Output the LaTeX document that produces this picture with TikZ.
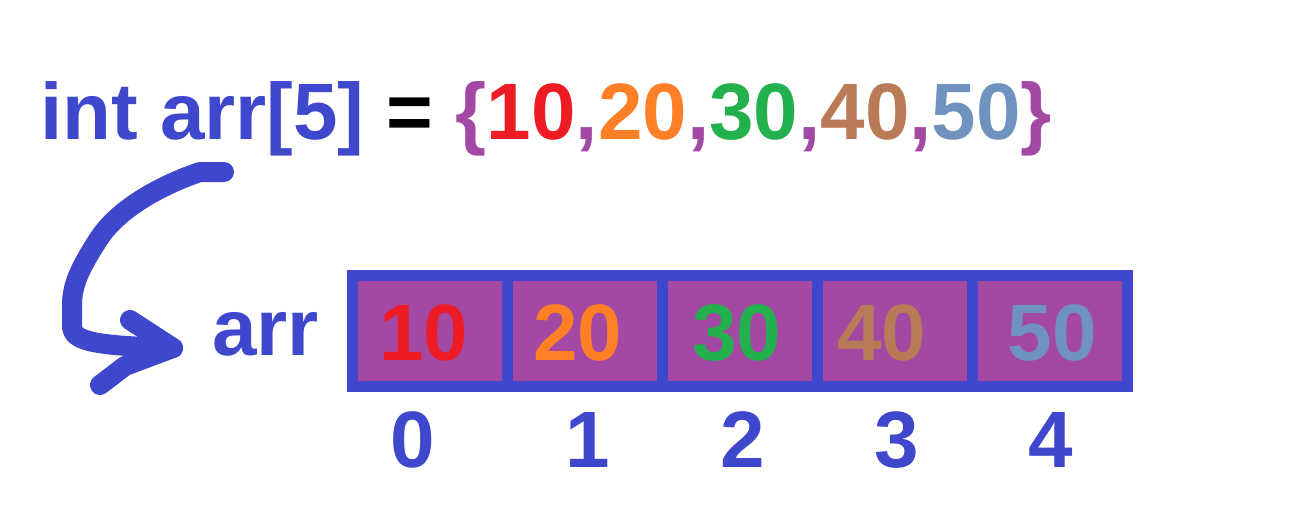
\documentclass[tikz,border=0pt]{standalone}
\usepackage{fontspec}
\setmainfont{Liberation Sans}
\usepackage{xcolor}

\definecolor{indigo}{RGB}{63,72,204}
\definecolor{cellfill}{RGB}{163,73,164}
\definecolor{valred}{RGB}{237,28,36}
\definecolor{valorange}{RGB}{255,127,39}
\definecolor{valgreen}{RGB}{34,177,76}
\definecolor{valbrown}{RGB}{185,122,87}
\definecolor{valblue}{RGB}{112,146,190}

\begin{document}
\begin{tikzpicture}[x=1pt,y=1pt,yscale=-1,
  big/.style={font=\fontsize{80}{96}\selectfont\bfseries, inner sep=0pt},
  cell/.style={draw=indigo, line width=11pt, fill=cellfill, minimum width=155pt, minimum height=111.5pt, inner sep=0pt},
  stroke/.style={draw=indigo, line width=20pt, line cap=round, line join=round}]
\useasboundingbox (0,0) rectangle (1314,514);

% Text Node
\node [big, anchor=base west] (decl) at (40,139) {\color{indigo}int arr[5] \color{black}= \color{cellfill}\{\color{valred}10\color{cellfill},\color{valorange}20\color{cellfill},\color{valgreen}30\color{cellfill},\color{valbrown}40\color{cellfill},\color{valblue}50\color{cellfill}\}};
% Text Node
\node [big, anchor=base west, text=indigo] (name) at (212,355) {arr};

%Shape: Array cells
\foreach \i in {0,...,4}
  \node [cell] (c\i) at ({430+155*\i},330.75) {};

% Values
\foreach \i/\v/\c/\x in {0/10/valred/424, 1/20/valorange/578, 2/30/valgreen/737, 3/40/valbrown/882, 4/50/valblue/1052}
  \node [big, anchor=base, text=\c] (v\i) at (\x,360) {\v};

% Indices
\foreach \i/\x in {0/413, 1/588, 2/743, 3/897, 4/1051}
  \node [big, anchor=base, text=indigo] (n\i) at (\x,467) {\i};

%Curved arrow
\coordinate (from) at (224,172);
\coordinate (tip) at (173,348);
\draw [stroke] (from) -- (200,172) .. controls (170,182) and (120,205) .. (98,240) .. controls (80,268) and (72,285) .. (72,305) -- (72,328) .. controls (74,342) and (100,346) .. (tip);
\draw [stroke] (130,320) -- (tip) -- (125,366) -- (100,385);

\end{tikzpicture}
\end{document}
